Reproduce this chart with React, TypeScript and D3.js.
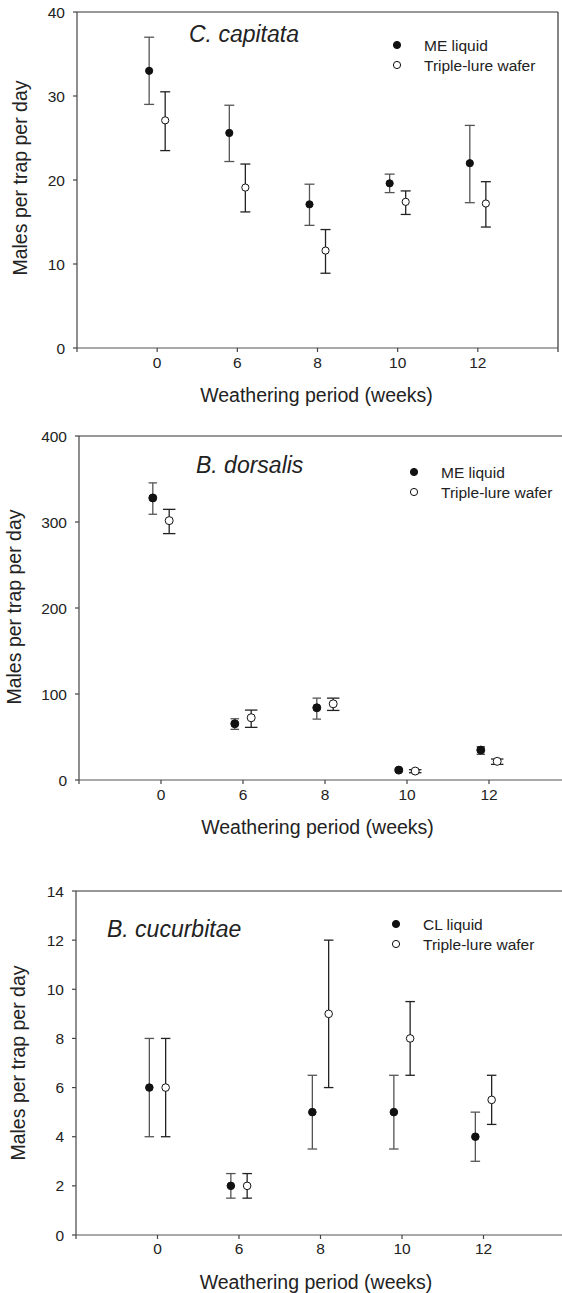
import React, { useRef, useEffect } from 'react';
import * as d3 from 'd3';

// weathering periods (categories on x axis)
const weeks = ['0', '6', '8', '10', '12'];

// C. capitata : mean, lower, upper
const capME = [[33, 29, 37], [25.6, 22.2, 28.9], [17.1, 14.6, 19.5], [19.6, 18.5, 20.7], [22, 17.3, 26.5]];
const capTL = [[27.1, 23.5, 30.5], [19.1, 16.2, 21.9], [11.6, 8.9, 14.1], [17.4, 15.9, 18.7], [17.2, 14.4, 19.8]];

// B. dorsalis
const dorME = [[328, 309, 345.5], [65.4, 58.9, 71.2], [84, 70.8, 95.2], [11.5, 10, 13], [34.8, 29.8, 38.7]];
const dorTL = [[301.6, 286.5, 314.7], [72.4, 61.2, 81.3], [88.6, 80.9, 95.2], [10.4, 8.5, 12], [21.7, 18.2, 24.4]];

// B. cucurbitae
const cucCL = [[6, 4, 8], [2, 1.5, 2.5], [5, 3.5, 6.5], [5, 3.5, 6.5], [4, 3, 5]];
const cucTL = [[6, 4, 8], [2, 1.5, 2.5], [9, 6, 12], [8, 6.5, 9.5], [5.5, 4.5, 6.5]];

const yTicks1 = [0, 10, 20, 30, 40];
const yTicks2 = [0, 100, 200, 300, 400];
const yTicks3 = [0, 2, 4, 6, 8, 10, 12, 14];

const FONT = "'Liberation Sans', Arial, sans-serif";

const panels = [
  {
    title: 'C. capitata', filled: 'ME liquid', open: 'Triple-lure wafer',
    a: capME, b: capTL, yTicks: yTicks1, yMax: 40,
    left: 77, right: 558, top: 12, bottom: 348, border: true,
    titleX: 189, titleY: 42, legX: 397, legY: 45,
    tickY: 368, xTitleY: 402, yTitleX: 20, yTitleY: 178,
    capA: 10, capB: 10, r: 3.6,
  },
  {
    title: 'B. dorsalis', filled: 'ME liquid', open: 'Triple-lure wafer',
    a: dorME, b: dorTL, yTicks: yTicks2, yMax: 400,
    left: 79, right: 571, top: 436, bottom: 780, border: true,
    titleX: 196, titleY: 473, legX: 414, legY: 472,
    tickY: 800, xTitleY: 834, yTitleX: 14, yTitleY: 607,
    capA: 8.5, capB: 12.5, r: 4,
  },
  {
    title: 'B. cucurbitae', filled: 'CL liquid', open: 'Triple-lure wafer',
    a: cucCL, b: cucTL, yTicks: yTicks3, yMax: 14,
    left: 76, right: 565, top: 891, bottom: 1235, border: true,
    titleX: 107, titleY: 937, legX: 396, legY: 924,
    tickY: 1254, xTitleY: 1289, yTitleX: 18, yTitleY: 1063,
    capA: 9.5, capB: 9.5, r: 3.8,
  },
];

const App = () => {
  const svgRef = useRef(null);

  useEffect(() => {
    const svg = d3.select(svgRef.current);
    svg.selectAll('*').remove();
    svg.append('rect').attr('width', 562).attr('height', 1293).attr('fill', '#fff');

    panels.forEach(p => {
      const g = svg.append('g');
      const x = d3.scaleLinear().domain([-1, 5]).range([p.left, p.right]);
      const y = d3.scaleLinear().domain([0, p.yMax]).range([p.bottom, p.top]);

      // frame: top and right
      if (p.border) {
        g.append('line').attr('x1', p.left).attr('x2', p.right).attr('y1', p.top).attr('y2', p.top)
          .attr('stroke', '#333').attr('stroke-width', 1.2);
        g.append('line').attr('x1', p.right).attr('x2', p.right).attr('y1', p.top).attr('y2', p.bottom + 4)
          .attr('stroke', '#333').attr('stroke-width', 1.2);
      }

      // y axis
      g.append('line').attr('x1', p.left).attr('x2', p.left).attr('y1', p.top).attr('y2', p.bottom + 4)
        .attr('stroke', '#444').attr('stroke-width', 1.2);
      p.yTicks.forEach(t => {
        g.append('line').attr('x1', p.left - 4).attr('x2', p.left).attr('y1', y(t)).attr('y2', y(t))
          .attr('stroke', '#444').attr('stroke-width', 1.2);
        g.append('text').attr('x', p.left - 12).attr('y', y(t)).attr('dy', '0.36em')
          .attr('text-anchor', 'end').attr('font-size', 15.5).attr('font-family', FONT)
          .attr('fill', '#222').text(t);
      });

      // x axis
      g.append('line').attr('x1', p.left).attr('x2', p.right).attr('y1', p.bottom).attr('y2', p.bottom)
        .attr('stroke', '#555').attr('stroke-width', 1.2);
      weeks.forEach((w, i) => {
        g.append('line').attr('x1', x(i)).attr('x2', x(i)).attr('y1', p.bottom).attr('y2', p.bottom + 4)
          .attr('stroke', '#444').attr('stroke-width', 1.2);
        g.append('text').attr('x', x(i)).attr('y', p.tickY).attr('text-anchor', 'middle')
          .attr('font-size', 15.5).attr('font-family', FONT).attr('fill', '#222').text(w);
      });

      // axis titles
      g.append('text').attr('x', (p.left + 558) / 2 - 1).attr('y', p.xTitleY).attr('text-anchor', 'middle')
        .attr('font-size', 19.5).attr('font-family', FONT).attr('fill', '#222')
        .text('Weathering period (weeks)');
      g.append('text').attr('transform', `translate(${p.yTitleX + 7},${p.yTitleY}) rotate(-90)`)
        .attr('text-anchor', 'middle').attr('font-size', 19.5).attr('font-family', FONT)
        .attr('fill', '#222').text('Males per trap per day');

      // species title
      g.append('text').attr('x', p.titleX).attr('y', p.titleY).attr('font-size', 23)
        .attr('font-style', 'italic').attr('font-family', FONT).attr('fill', '#222').text(p.title);

      // error bars + points
      const series = [
        { data: p.a, off: -0.1, fill: '#111', stroke: '#555', cap: p.capA },
        { data: p.b, off: 0.1, fill: '#fff', stroke: '#222', cap: p.capB },
      ];
      series.forEach(s => {
        const eg = g.append('g');
        s.data.forEach((d, i) => {
          const cx = x(i + s.off);
          eg.append('line').attr('x1', cx).attr('x2', cx).attr('y1', y(d[1])).attr('y2', y(d[2]))
            .attr('stroke', s.stroke).attr('stroke-width', 1.3);
          [d[1], d[2]].forEach(v => {
            eg.append('line').attr('x1', cx - s.cap / 2).attr('x2', cx + s.cap / 2)
              .attr('y1', y(v)).attr('y2', y(v)).attr('stroke', s.stroke).attr('stroke-width', 1.3);
          });
        });
        g.selectAll(null).data(s.data).enter().append('circle')
          .attr('cx', (d, i) => x(i + s.off)).attr('cy', d => y(d[0])).attr('r', p.r)
          .attr('fill', s.fill).attr('stroke', '#111').attr('stroke-width', 1);
      });

      // legend
      [[p.filled, '#111'], [p.open, '#fff']].forEach(([label, fill], k) => {
        const ly = p.legY + k * 20;
        g.append('circle').attr('cx', p.legX).attr('cy', ly).attr('r', 3.6)
          .attr('fill', fill).attr('stroke', '#111').attr('stroke-width', 1);
        g.append('text').attr('x', p.legX + 27).attr('y', ly).attr('dy', '0.36em')
          .attr('font-size', 15.5).attr('font-family', FONT).attr('fill', '#222').text(label);
      });
    });
  }, []);

  return (
    <svg ref={svgRef} width={562} height={1293}
      style={{ position: 'absolute', left: 0, top: 0, display: 'block' }} />
  );
};

export default App;
